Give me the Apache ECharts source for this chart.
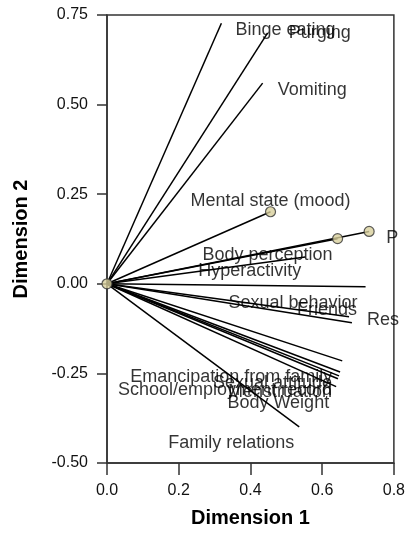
<!DOCTYPE html>
<html>
<head>
<meta charset="utf-8">
<script src="https://cdn.jsdelivr.net/npm/echarts@6/dist/echarts.min.js"></script>
<style>
  html, body { margin: 0; padding: 0; background: #fff; }
  #main { width: 408px; height: 534px; }
</style>
</head>
<body>
<div id="main"></div>
<script>
// component loadings (dimension 1 / dimension 2)
var variables = ['Body Weight', 'Menstruation', 'Restriction of food intake (fasting)', 'Binge eating',
  'Vomiting', 'Purging', 'Hyperactivity', 'Family relations', 'Emancipation from family', 'Friends',
  'School/employment record', 'Sexual attitude', 'Sexual behavior', 'Mental state (mood)',
  'Preoccupation with food and weight', 'Body perception'];
var dim1 = [0.639, 0.644, 0.683, 0.319, 0.434, 0.448, 0.553, 0.536, 0.656, 0.675, 0.647, 0.650, 0.721, 0.456, 0.731, 0.643];
var dim2 = [-0.287, -0.265, -0.109, 0.727, 0.560, 0.700, 0.075, -0.399, -0.215, -0.092, -0.257, -0.246, -0.008, 0.201, 0.146, 0.126];
var xTicks = [0, 0.2, 0.4, 0.6, 0.8];
var yTicks = [-0.5, -0.25, 0, 0.25, 0.5, 0.75];
var marked = ['Mental state (mood)', 'Preoccupation with food and weight', 'Body perception'];

// where each label sits around its end point: align, dx, dy, clip width
var labelPlace = {
  'Body Weight': ['right', -7, 16],
  'Menstruation': ['right', -6, 13],
  'Restriction of food intake (fasting)': ['left', 15, -3, 36],
  'Binge eating': ['left', 14, 7],
  'Vomiting': ['left', 15, 7],
  'Purging': ['left', 21, 0],
  'Hyperactivity': ['right', -4, 14],
  'Family relations': ['right', -5, 16],
  'Emancipation from family': ['right', -10, 16],
  'Friends': ['right', 8, -7],
  'School/employment record': ['right', -7, 14],
  'Sexual attitude': ['right', -8, 11],
  'Sexual behavior': ['right', -8, 16],
  'Mental state (mood)': ['center', 0, -11],
  'Preoccupation with food and weight': ['left', 17, 7, 16],
  'Body perception': ['right', -5, 16]
};

var font = "'Liberation Sans', Arial, sans-serif";
var myChart = echarts.init(document.getElementById('main'));

var series = [];
// vectors from the origin
variables.forEach(function (name, i) {
  series.push({
    type: 'line',
    silent: true,
    showSymbol: false,
    z: 2,
    lineStyle: { color: '#000', width: 1.5 },
    data: [[0, 0], [dim1[i], dim2[i]]]
  });
});

// labels
series.push({
  type: 'scatter',
  silent: true,
  symbolSize: 0,
  z: 3,
  data: variables.map(function (name, i) {
    var p = labelPlace[name];
    var lab = {
      show: true,
      formatter: '{b}',
      position: [p[1], p[2]],
      align: p[0],
      verticalAlign: 'middle',
      color: '#000',
      fontFamily: font,
      fontSize: 18
    };
    if (p[3]) {
      lab.width = p[3];
      lab.overflow = 'truncate';
      lab.ellipsis = '';
    }
    return { name: name, value: [dim1[i], dim2[i]], label: lab };
  })
});

// end point markers + origin
var pts = [[0, 0]];
variables.forEach(function (name, i) {
  if (marked.indexOf(name) >= 0) pts.push([dim1[i], dim2[i]]);
});
series.push({
  type: 'scatter',
  silent: true,
  symbolSize: 10,
  z: 4,
  itemStyle: { color: '#d8cf9c', borderColor: '#333', borderWidth: 1.2 },
  data: pts
});

var option = {
  animation: false,
  grid: { left: 107, right: 13, top: 15, bottom: 71, show: true, borderColor: '#333', borderWidth: 1.5 },
  xAxis: {
    type: 'value',
    min: xTicks[0], max: xTicks[xTicks.length - 1], interval: 0.2,
    name: 'Dimension 1', nameLocation: 'middle', nameGap: 45,
    nameTextStyle: { fontFamily: font, fontSize: 20, fontWeight: 'bold', color: '#000' },
    axisLine: { onZero: false, lineStyle: { color: '#333', width: 1.5 } },
    axisTick: { length: 12, lineStyle: { color: '#333', width: 1.5 } },
    axisLabel: { margin: 20, fontFamily: font, fontSize: 16, color: '#111',
      formatter: function (v) { return v.toFixed(1); } },
    splitLine: { show: false }
  },
  yAxis: {
    type: 'value',
    min: yTicks[0], max: yTicks[yTicks.length - 1], interval: 0.25,
    name: 'Dimension 2', nameLocation: 'middle', nameGap: 76, nameRotate: 90,
    nameTextStyle: { fontFamily: font, fontSize: 20, fontWeight: 'bold', color: '#000' },
    axisLine: { onZero: false, lineStyle: { color: '#333', width: 1.5 } },
    axisTick: { length: 10, lineStyle: { color: '#333', width: 1.5 } },
    axisLabel: { margin: 19, fontFamily: font, fontSize: 16, color: '#111',
      formatter: function (v) { return v.toFixed(2); } },
    splitLine: { show: false }
  },
  series: series
};
myChart.setOption(option);
</script>
</body>
</html>
